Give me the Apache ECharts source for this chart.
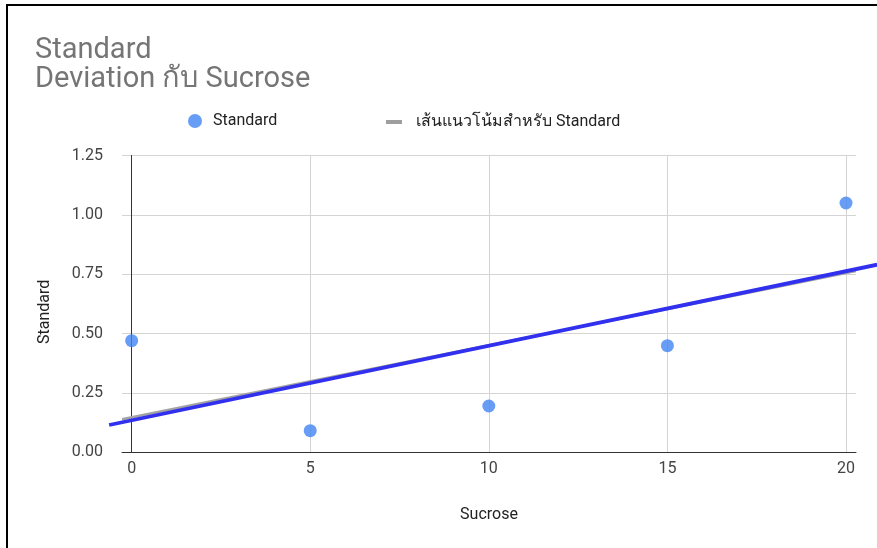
<!DOCTYPE html>
<html>
<head>
<meta charset="utf-8">
<script src="https://cdn.jsdelivr.net/npm/echarts@6/dist/echarts.min.js"></script>
<style>
  html, body { margin: 0; padding: 0; background: #fff; }
  #chart { width: 877px; height: 548px; }
</style>
</head>
<body>
<div id="chart"></div>
<script>
// Sucrose level vs. standard deviation
const sucrose = [0, 5, 10, 15, 20];
const stdValues = [0.47, 0.091, 0.195, 0.449, 1.05];

// Hand-drawn guide line (two end points, data units)
const guideX = [-0.63, 20.87];
const guideY = [0.115, 0.79];

// Axis settings
const xTicks = [0, 5, 10, 15, 20];
const xRange = [-0.27, 20.28];
const yTicks = [0, 0.25, 0.5, 0.75, 1.0, 1.25];

// Least-squares trend line for the Standard series
function linearFit(xs, ys) {
  const n = xs.length;
  const mx = xs.reduce((a, b) => a + b, 0) / n;
  const my = ys.reduce((a, b) => a + b, 0) / n;
  let sxy = 0, sxx = 0;
  for (let i = 0; i < n; i++) {
    sxy += (xs[i] - mx) * (ys[i] - my);
    sxx += (xs[i] - mx) * (xs[i] - mx);
  }
  const slope = sxy / sxx;
  return { slope, intercept: my - slope * mx };
}
const fit = linearFit(sucrose, stdValues);
const trendData = xRange.map(x => [x, fit.intercept + fit.slope * x]);

const FONT = 'Roboto, "Noto Sans", Arial, sans-serif';
const TREND_NAME = 'เส้นแนวโน้มสำหรับ Standard';

const chart = echarts.init(document.getElementById('chart'), null, { renderer: 'canvas' });
chart.setOption({
  animation: false,
  backgroundColor: '#fff',
  textStyle: { fontFamily: FONT },
  title: {
    text: 'Standard\nDeviation กับ Sucrose',
    left: 30,
    top: 31,
    textStyle: { fontFamily: FONT, fontSize: 29, fontWeight: 'normal', color: '#757575', lineHeight: 29 }
  },
  legend: [
    {
      data: [{ name: 'Standard', icon: 'circle' }],
      left: 183,
      top: 108,
      itemWidth: 26,
      itemHeight: 14,
      textStyle: { fontFamily: FONT, fontSize: 16, color: '#222', padding: [0, 0, 0, 0] }
    },
    {
      data: [{ name: TREND_NAME, icon: 'rect' }],
      left: 381,
      top: 109,
      itemWidth: 16,
      itemHeight: 4,
      textStyle: { fontFamily: FONT, fontSize: 16, color: '#222', padding: [0, 0, 0, 9] }
    }
  ],
  graphic: [
    {
      type: 'polyline',
      shape: { points: [[7, 548], [7, 5], [877, 5]] },
      style: { stroke: '#000', lineWidth: 2, fill: null },
      z: 100
    }
  ],
  grid: { left: 122, right: 21, top: 155.5, bottom: 95.7 },
  xAxis: {
    type: 'value',
    min: xRange[0],
    max: xRange[1],
    name: 'Sucrose',
    nameLocation: 'middle',
    nameGap: 55,
    nameTextStyle: { fontFamily: FONT, fontSize: 16, color: '#222' },
    axisLine: { show: true, lineStyle: { color: '#333', width: 1 } },
    axisTick: { show: false, customValues: xTicks },
    axisLabel: { customValues: xTicks, fontFamily: FONT, fontSize: 16, color: '#444', margin: 9 },
    splitLine: { show: true, lineStyle: { color: '#d4d4d4', width: 1 } }
  },
  yAxis: {
    type: 'value',
    min: yTicks[0],
    max: yTicks[yTicks.length - 1],
    interval: 0.25,
    name: 'Standard',
    nameLocation: 'middle',
    nameGap: 69,
    nameTextStyle: { fontFamily: FONT, fontSize: 16, color: '#222', padding: [0, 16, 0, 0] },
    axisLine: { show: true, onZero: true, lineStyle: { color: '#333', width: 1 } },
    axisTick: { show: false },
    axisLabel: {
      fontFamily: FONT, fontSize: 16, color: '#444', margin: 19,
      formatter: v => v.toFixed(2)
    },
    splitLine: { show: true, lineStyle: { color: '#d4d4d4', width: 1 } }
  },
  series: [
    {
      name: 'Standard',
      type: 'scatter',
      data: sucrose.map((x, i) => [x, stdValues[i]]),
      symbol: 'circle',
      symbolSize: 13,
      itemStyle: { color: '#4285f4' },
      z: 5
    },
    {
      name: TREND_NAME,
      type: 'line',
      data: trendData,
      showSymbol: false,
      symbol: 'none',
      lineStyle: { color: '#a3a3a3', width: 2.5 },
      itemStyle: { color: '#9e9e9e' },
      z: 3
    },
    {
      // guide line drawn over the trend, running past the plot edges
      name: 'guide',
      type: 'custom',
      clip: false,
      data: [[guideX[0], guideY[0], guideX[1], guideY[1]]],
      encode: { x: [0, 2], y: [1, 3] },
      renderItem: (params, api) => {
        const p0 = api.coord([api.value(0), api.value(1)]);
        const p1 = api.coord([api.value(2), api.value(3)]);
        return {
          type: 'line',
          shape: { x1: p0[0], y1: p0[1], x2: p1[0], y2: p1[1] },
          style: { stroke: '#3030ee', lineWidth: 3.8 }
        };
      },
      z: 4
    }
  ]
});
</script>
</body>
</html>
